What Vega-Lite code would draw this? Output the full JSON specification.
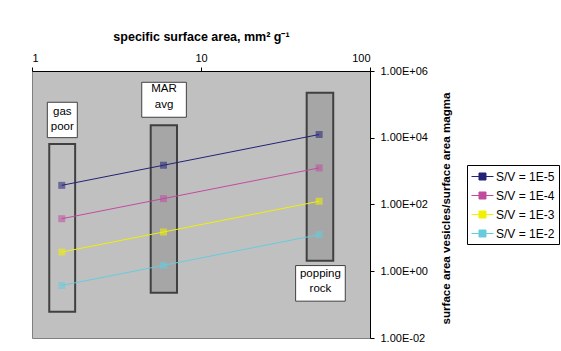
{
  "$schema": "https://vega.github.io/schema/vega-lite/v6.json",
  "width": 338,
  "height": 267,
  "autosize": {"type": "none"},
  "padding": {"left": 32, "top": 71, "right": 191, "bottom": 13},
  "background": "white",
  "config": {
    "font": "Liberation Sans",
    "view": {"fill": "#c0c0c0", "stroke": "#808080", "strokeWidth": 1},
    "axis": {"grid": false, "domainColor": "black", "tickColor": "black", "labelColor": "black", "titleColor": "black", "labelFont": "Liberation Sans", "titleFont": "Liberation Sans", "labelFontSize": 11, "titleFontSize": 11, "titleFontWeight": "bold"}
  },
  "datasets": {
    "series": [
      {"ssa": 1.5, "ratio": 375, "sv": "S/V = 1E-5"},
      {"ssa": 6, "ratio": 1500, "sv": "S/V = 1E-5"},
      {"ssa": 50, "ratio": 12500, "sv": "S/V = 1E-5"},
      {"ssa": 1.5, "ratio": 37.5, "sv": "S/V = 1E-4"},
      {"ssa": 6, "ratio": 150, "sv": "S/V = 1E-4"},
      {"ssa": 50, "ratio": 1250, "sv": "S/V = 1E-4"},
      {"ssa": 1.5, "ratio": 3.75, "sv": "S/V = 1E-3"},
      {"ssa": 6, "ratio": 15, "sv": "S/V = 1E-3"},
      {"ssa": 50, "ratio": 125, "sv": "S/V = 1E-3"},
      {"ssa": 1.5, "ratio": 0.375, "sv": "S/V = 1E-2"},
      {"ssa": 6, "ratio": 1.5, "sv": "S/V = 1E-2"},
      {"ssa": 50, "ratio": 12.5, "sv": "S/V = 1E-2"}
    ],
    "groups": [
      {"name": "gas poor", "bx": 1.265, "bx2": 1.8, "by": 6520, "by2": 0.0608, "lx": 1.232, "lx2": 1.854, "ly": 115600, "ly2": 10070, "tx": 1.51, "ty": 60400, "text": "gas\npoor"},
      {"name": "MAR avg", "bx": 5.04, "bx2": 7.21, "by": 23650, "by2": 0.225, "lx": 4.46, "lx2": 8.19, "ly": 459000, "ly2": 41100, "tx": 6.04, "ty": 283000, "text": "MAR\navg"},
      {"name": "popping rock", "bx": 42.2, "bx2": 60.6, "by": 224000, "by2": 2.05, "lx": 36.3, "lx2": 71.4, "ly": 1.48, "ly2": 0.127, "tx": 50.9, "ty": 0.836, "text": "popping\nrock"}
    ]
  },
  "layer": [
    {
      "data": {"name": "groups"},
      "mark": {"type": "rect", "stroke": "#404040", "strokeWidth": 2},
      "encoding": {
        "x": {"field": "bx", "type": "quantitative", "scale": {"type": "log", "domain": [1, 100], "nice": false},
          "axis": {"orient": "top", "values": [1, 10, 100], "format": "d", "tickSize": 4, "labelPadding": 4, "domainWidth": 1,
            "title": "specific surface area, mm² g⁻¹", "titleFontSize": 12.5, "titlePadding": 9}},
        "x2": {"field": "bx2"},
        "y": {"field": "by", "type": "quantitative", "scale": {"type": "log", "domain": [0.01, 1000000], "nice": false},
          "axis": {"orient": "right", "values": [0.01, 1, 100, 10000, 1000000], "tickSize": 4, "labelPadding": 6,
            "labelExpr": "'1.00E' + (datum.value < 1 ? '-' : '+') + '0' + abs(round(log(datum.value)/LN10))",
            "title": "surface area vesicles/surface area magma", "titleFontSize": 11.6, "titleAngle": 270, "titleX": 76, "titleY": 137, "titleAlign": "center", "titleBaseline": "middle"}},
        "y2": {"field": "by2"},
        "fill": {"condition": {"test": "datum.name === 'gas poor'", "value": "transparent"}, "value": "#a6a6a6"}
      }
    },
    {
      "data": {"name": "series"},
      "mark": {"type": "line", "strokeWidth": 1},
      "encoding": {
        "x": {"field": "ssa", "type": "quantitative"},
        "y": {"field": "ratio", "type": "quantitative"},
        "color": {"field": "sv", "type": "nominal",
          "scale": {"domain": ["S/V = 1E-5", "S/V = 1E-4", "S/V = 1E-3", "S/V = 1E-2"], "range": ["#222277", "#c04c9f", "#f0f000", "#66ccdd"]},
          "legend": {"orient": "none", "legendX": 435, "legendY": 94, "title": null, "fillColor": "white", "strokeColor": "black", "padding": 4,
            "symbolType": "M-1,0H2.14M0.07,-0.5H1.07V0.5H0.07Z", "symbolSize": 196, "symbolStrokeWidth": 1, "labelFont": "Liberation Sans", "labelFontSize": 12, "labelColor": "black", "labelOffset": 10, "rowPadding": 5,
            "encode": {"symbols": {"update": {"fill": {"scale": "color", "field": "value"}, "stroke": {"scale": "color", "field": "value"}, "opacity": {"value": 1}}}}}
        }
      }
    },
    {
      "data": {"name": "series"},
      "mark": {"type": "point", "shape": "square", "filled": true, "size": 49, "opacity": 0.55},
      "encoding": {
        "x": {"field": "ssa", "type": "quantitative"},
        "y": {"field": "ratio", "type": "quantitative"},
        "color": {"field": "sv", "type": "nominal", "legend": null}
      }
    },
    {
      "data": {"name": "groups"},
      "mark": {"type": "rect", "fill": "white", "stroke": "#404040", "strokeWidth": 1},
      "encoding": {
        "x": {"field": "lx", "type": "quantitative"},
        "x2": {"field": "lx2"},
        "y": {"field": "ly", "type": "quantitative"},
        "y2": {"field": "ly2"}
      }
    },
    {
      "data": {"name": "groups"},
      "mark": {"type": "text", "font": "Liberation Sans", "fontSize": 11.5, "color": "black", "lineBreak": "\n", "lineHeight": 15.5, "align": "center", "baseline": "middle"},
      "encoding": {
        "x": {"field": "tx", "type": "quantitative"},
        "y": {"field": "ty", "type": "quantitative"},
        "text": {"field": "text"}
      }
    }
  ]
}
